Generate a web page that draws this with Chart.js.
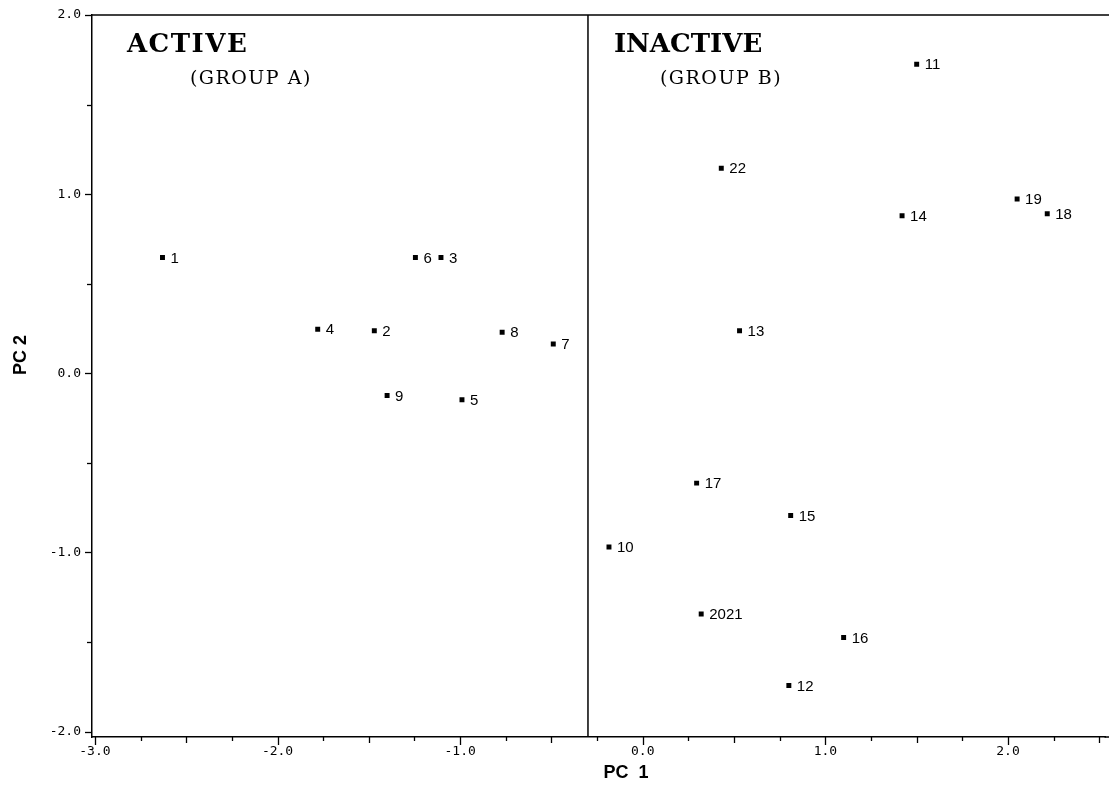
<!DOCTYPE html>
<html><head><meta charset="utf-8">
<script src="https://cdn.jsdelivr.net/npm/chart.js@4.4.1/dist/chart.umd.min.js"></script>
<style>html,body{margin:0;padding:0;background:#fff;overflow:hidden}#wrap{width:1109px;height:786px;position:relative}canvas{display:block}</style>
</head><body><div id="wrap"><canvas id="c"></canvas></div>
<script>
// ---- data ----
const pointLabels = ['1','6','3','4','2','8','7','9','5',
                     '11','22','14','19','18','13','17','15','10','2021','16','12'];
const pc1 = [-2.63,-1.245,-1.105,-1.78,-1.47,-0.77,-0.49,-1.40,-0.99,
              1.50, 0.43, 1.42, 2.05, 2.215, 0.53, 0.295, 0.81, -0.185, 0.32, 1.10, 0.80];
const pc2 = [0.646,0.646,0.646,0.246,0.238,0.229,0.164,-0.124,-0.148,
              1.725,1.145,0.880,0.973,0.891,0.238,-0.613,-0.794,-0.970,-1.343,-1.475,-1.743];
const dividerX = [-0.30, -0.30];
const dividerY = [2.0, -2.03];
const xTicks = [-3,-2.75,-2.5,-2.25,-2,-1.75,-1.5,-1.25,-1,-0.75,-0.5,-0.25,0,0.25,0.5,0.75,1,1.25,1.5,1.75,2,2.25,2.5];
const yTicks = [2,1.5,1,0.5,0,-0.5,-1,-1.5,-2];
const xTickLabels = {'-3':'-3.0','-2':'-2.0','-1':'-1.0','0':'0.0','1':'1.0','2':'2.0'};
const yTickLabels = {'2':'2.0','1':'1.0','0':'0.0','-1':'-1.0','-2':'-2.0'};
const groupTitles = ['ACTIVE','INACTIVE'];
const groupSubtitles = ['(GROUP A)','(GROUP B)'];
const xTitle = 'PC  1';
const yTitle = 'PC 2';

// ---- drawing helpers ----
const titlePos = [{x:-2.825,y:1.83,sx:-2.48,sy:1.643},{x:-0.158,y:1.83,sx:0.094,sy:1.643}];

const decor = {
  id:'decor',
  afterDraw(chart){
    const {ctx, chartArea:a, scales:{x,y}} = chart;
    ctx.save();
    ctx.strokeStyle='#000'; ctx.fillStyle='#000';
    // top frame line and bottom axis continuation to the page edge
    ctx.lineWidth=1.5;
    ctx.beginPath(); ctx.moveTo(a.left, a.top); ctx.lineTo(chart.width, a.top); ctx.stroke();
    ctx.beginPath(); ctx.moveTo(a.right-1, a.bottom); ctx.lineTo(chart.width, a.bottom); ctx.stroke();
    // tick marks
    ctx.lineWidth=1.3;
    xTicks.forEach(v=>{
      const px = Math.round(x.getPixelForValue(v))+0.5;
      const len = Number.isInteger(v)?8:(Number.isInteger(v*2)?6:4);
      ctx.beginPath(); ctx.moveTo(px,a.bottom); ctx.lineTo(px,a.bottom+len); ctx.stroke();
    });
    yTicks.forEach(v=>{
      const py = Math.round(y.getPixelForValue(v))+0.5;
      const len = Number.isInteger(v)?7:5;
      ctx.beginPath(); ctx.moveTo(a.left,py); ctx.lineTo(a.left-len,py); ctx.stroke();
    });
    // point labels
    ctx.font='15px "Liberation Sans", Arial, sans-serif';
    ctx.textAlign='left'; ctx.textBaseline='middle';
    pc1.forEach((v,i)=>{
      ctx.fillText(pointLabels[i], x.getPixelForValue(v)+8, y.getPixelForValue(pc2[i])+1);
    });
    // group titles
    groupTitles.forEach((t,i)=>{
      const p = titlePos[i];
      ctx.font='bold 26px "DejaVu Serif", serif';
      ctx.textBaseline='middle';
      if ('letterSpacing' in ctx) ctx.letterSpacing = i===0 ? '1.5px' : '0px';
      ctx.fillText(t, x.getPixelForValue(p.x), y.getPixelForValue(p.y));
      ctx.font='19px "DejaVu Serif", serif';
      if ('letterSpacing' in ctx) ctx.letterSpacing='1.5px';
      ctx.fillText(groupSubtitles[i], x.getPixelForValue(p.sx), y.getPixelForValue(p.sy));
      if ('letterSpacing' in ctx) ctx.letterSpacing='0px';
    });
    // axis titles
    ctx.font='bold 18px "Liberation Sans", Arial, sans-serif';
    ctx.textAlign='center';
    ctx.fillText(xTitle, 626, 773);
    ctx.translate(21, 355); ctx.rotate(-Math.PI/2);
    ctx.fillText(yTitle, 0, 0);
    ctx.restore();
  }
};

new Chart(document.getElementById('c'), {
  type:'scatter',
  data:{
    datasets:[
      { data: pc1.map((v,i)=>({x:v,y:pc2[i]})),
        pointStyle:'rect', pointRadius:3.5, pointHoverRadius:3.5,
        backgroundColor:'#000', borderColor:'#000', borderWidth:0, showLine:false },
      { data: dividerX.map((v,i)=>({x:v,y:dividerY[i]})),
        showLine:true, pointRadius:0, borderColor:'#000', borderWidth:1.5, fill:false }
    ]
  },
  options:{
    responsive:true, maintainAspectRatio:false, animation:false,
    devicePixelRatio:1,
    layout:{padding:{top:15,left:0,right:0,bottom:0}},
    plugins:{legend:{display:false}, tooltip:{enabled:false}, title:{display:false}},
    scales:{
      x:{
        type:'linear', min:-3.016, max:2.534,
        afterBuildTicks(s){ s.ticks = xTicks.map(v=>({value:v})); },
        afterFit(s){ s.height = 49; s.paddingLeft = 0; s.paddingRight = 0; },
        grid:{display:false, drawTicks:false},
        border:{display:true, color:'#000', width:1.5},
        ticks:{ padding:7, color:'#000', autoSkip:false, maxRotation:0,
          font:{family:'"DejaVu Sans Mono", monospace', size:13},
          callback:(v)=> xTickLabels[String(v)] || '' }
      },
      y:{
        type:'linear', min:-2.03, max:2.0,
        afterBuildTicks(s){ s.ticks = yTicks.map(v=>({value:v})); },
        afterFit(s){ s.width = 92; s.paddingTop = 0; s.paddingBottom = 0; },
        grid:{display:false, drawTicks:false},
        border:{display:true, color:'#000', width:1.5},
        ticks:{ padding:11, color:'#000', autoSkip:false,
          font:{family:'"DejaVu Sans Mono", monospace', size:13},
          callback:(v)=> yTickLabels[String(v)] || '' }
      }
    }
  },
  plugins:[decor]
});
</script></body></html>
